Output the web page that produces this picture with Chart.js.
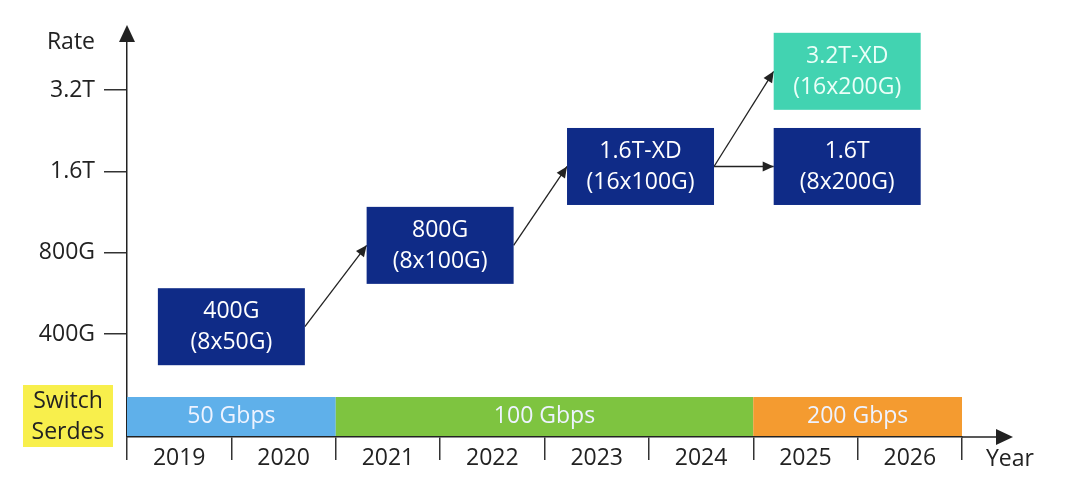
<!DOCTYPE html>
<html>
<head>
<meta charset="utf-8">
<script src="https://cdn.jsdelivr.net/npm/chart.js@4"></script>
<style>
  html, body { margin: 0; padding: 0; background: #fff; }
  canvas { display: block; }
</style>
</head>
<body>
<canvas id="roadmap" width="1067" height="478"></canvas>
<script>
// categories and values
const years = ['2019', '2020', '2021', '2022', '2023', '2024', '2025', '2026'];
const rateLevels = [1, 2, 3, 4];
const rateLabels = ['400G', '800G', '1.6T', '3.2T'];

// module boxes: name, lane split, position (year index, rate level)
const boxNames = ['400G', '800G', '1.6T-XD', '3.2T-XD', '1.6T'];
const boxLanes = ['(8x50G)', '(8x100G)', '(16x100G)', '(16x200G)', '(8x200G)'];
const boxYear = [0.5, 2.5, 4.42, 6.4, 6.4];
const boxLevel = [1.09, 2.09, 3.06, 4.23, 3.06];
const boxNext = [false, false, false, true, false];

// arrows between boxes (from, to)
const links = [[0, 1], [1, 2], [2, 3], [2, 4]];

// switch serdes bands (first year index, last year index)
const serdesLabels = ['50 Gbps', '100 Gbps', '200 Gbps'];
const serdesFrom = [0, 2, 6];
const serdesTo = [1, 5, 7];
const serdesColors = ['#5fb0ea', '#7ec440', '#f49b30'];

const BOX_W = 147, BOX_H = 77;
const NAVY = '#0f2b87';
const TEAL = '#42d3b1';
const INK = '#222';
const FONT = "23px 'Open Sans'";

Chart.defaults.font.family = "'Open Sans', 'Noto Sans', sans-serif";

function arrowHead(ctx, x1, y1, x2, y2, len, half) {
    const a = Math.atan2(y2 - y1, x2 - x1);
    ctx.beginPath();
    ctx.moveTo(x2, y2);
    ctx.lineTo(x2 - len * Math.cos(a) + half * Math.sin(a), y2 - len * Math.sin(a) - half * Math.cos(a));
    ctx.lineTo(x2 - len * Math.cos(a) - half * Math.sin(a), y2 - len * Math.sin(a) + half * Math.cos(a));
    ctx.closePath();
    ctx.fill();
}

const roadmapPlugin = {
    id: 'roadmap',
    afterDatasetsDraw(chart) {
        const ctx = chart.ctx;
        const x = chart.scales.x, y = chart.scales.y;
        const area = chart.chartArea;
        ctx.save();

        // axis arrows
        ctx.strokeStyle = INK;
        ctx.fillStyle = INK;
        ctx.lineWidth = 1.5;
        ctx.beginPath();
        ctx.moveTo(area.left, area.top);
        ctx.lineTo(area.left, 30);
        ctx.stroke();
        arrowHead(ctx, area.left, 60, area.left, 25, 17, 8);
        ctx.beginPath();
        ctx.moveTo(area.right, area.bottom);
        ctx.lineTo(1005, area.bottom);
        ctx.stroke();
        arrowHead(ctx, 960, area.bottom, 1013, area.bottom, 17, 8);

        ctx.font = FONT;
        ctx.textBaseline = 'middle';
        ctx.textAlign = 'right';
        ctx.fillText('Rate', 95, 42);
        ctx.textAlign = 'left';
        ctx.fillText('Year', 986, 459);

        // serdes bands
        ctx.textAlign = 'center';
        serdesLabels.forEach((label, i) => {
            const x0 = x.getPixelForValue(serdesFrom[i] - 0.5);
            const x1 = x.getPixelForValue(serdesTo[i] + 0.5);
            ctx.fillStyle = serdesColors[i];
            ctx.fillRect(x0, area.bottom - 40, x1 - x0, 39);
            ctx.fillStyle = '#eef3ff';
            ctx.fillText(label, (x0 + x1) / 2, area.bottom - 21);
        });

        // switch serdes tag
        ctx.fillStyle = '#f8ef4c';
        ctx.fillRect(23, 385, 90, 62);
        ctx.fillStyle = INK;
        ctx.fillText('Switch', 68, 401);
        ctx.fillText('Serdes', 68, 432);

        // links
        ctx.strokeStyle = INK;
        ctx.fillStyle = INK;
        ctx.lineWidth = 1.3;
        links.forEach(([a, b]) => {
            const sx = x.getPixelForValue(boxYear[a]) + BOX_W / 2;
            const sy = y.getPixelForValue(boxLevel[a]);
            const ex = x.getPixelForValue(boxYear[b]) - BOX_W / 2;
            const ey = y.getPixelForValue(boxLevel[b]);
            ctx.beginPath();
            ctx.moveTo(sx, sy);
            ctx.lineTo(ex, ey);
            ctx.stroke();
            arrowHead(ctx, sx, sy, ex, ey, 11, 5);
        });

        // boxes
        boxNames.forEach((name, i) => {
            const cx = x.getPixelForValue(boxYear[i]);
            const cy = y.getPixelForValue(boxLevel[i]);
            ctx.fillStyle = boxNext[i] ? TEAL : NAVY;
            ctx.fillRect(cx - BOX_W / 2, cy - BOX_H / 2, BOX_W, BOX_H);
            ctx.fillStyle = boxNext[i] ? '#eafff8' : '#ffffff';
            ctx.fillText(name, cx, cy - 15);
            ctx.fillText(boxLanes[i], cx, cy + 16);
        });

        ctx.restore();
    }
};

new Chart(document.getElementById('roadmap'), {
    type: 'line',
    data: { labels: years, datasets: [] },
    options: {
        responsive: false,
        animation: false,
        layout: { padding: { top: 40, right: 105, left: 0, bottom: 0 } },
        plugins: { legend: { display: false }, tooltip: { enabled: false } },
        scales: {
            x: {
                type: 'category',
                offset: true,
                grid: { offset: true, drawOnChartArea: false, tickLength: 23, color: '#333', lineWidth: 1.5 },
                border: { color: INK, width: 1.5 },
                ticks: { color: INK, font: { size: 23 }, padding: -15, maxRotation: 0 },
                afterFit: s => { s.height = 41; }
            },
            y: {
                type: 'linear',
                min: -0.266,
                max: 4.615,
                afterBuildTicks: s => { s.ticks = rateLevels.map(v => ({ value: v })); },
                grid: { drawOnChartArea: false, tickLength: 23, color: '#333', lineWidth: 1.5 },
                border: { color: INK, width: 1.5 },
                ticks: {
                    color: INK,
                    font: { size: 23 },
                    padding: 9,
                    callback: v => rateLabels[rateLevels.indexOf(v)]
                },
                afterFit: s => { s.width = 127; }
            }
        }
    },
    plugins: [roadmapPlugin]
});
</script>
</body>
</html>
